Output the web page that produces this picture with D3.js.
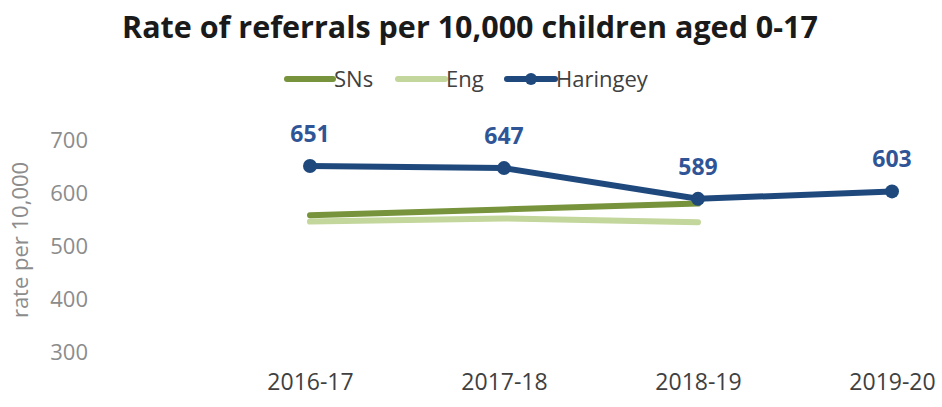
<!DOCTYPE html>
<html>
<head>
<meta charset="utf-8">
<script src="https://cdn.jsdelivr.net/npm/d3@7"></script>
<style>
  html, body { margin: 0; padding: 0; background: #fff; }
  svg { display: block; font-family: "Open Sans", "Noto Sans", sans-serif; }
</style>
</head>
<body>
<svg id="chart" width="942" height="407"></svg>
<script>
// Referral rates per 10,000 children aged 0-17
const years = ["2016-17", "2017-18", "2018-19", "2019-20"];
const snsValues = [558, 569, 580];
const engValues = [546, 552, 545];
const haringeyValues = [651, 647, 589, 603];
const yTicks = [300, 400, 500, 600, 700];

const colors = { sns: "#77933c", eng: "#c3d69b", haringey: "#1f497d" };
const FONT = "'Open Sans', 'Noto Sans', sans-serif";

const svg = d3.select("#chart");

const x = d3.scalePoint().domain(years).range([310, 892]);
const y = d3.scaleLinear().domain([300, 700]).range([352, 140]);

// Title
svg.append("text")
  .attr("x", 470).attr("y", 38)
  .attr("text-anchor", "middle")
  .attr("font-size", 30.5).attr("font-weight", 700)
  .attr("fill", "#1a1a1a")
  .text("Rate of referrals per 10,000 children aged 0-17");

// Y axis (labels only)
const yAxis = d3.axisLeft(y).tickValues(yTicks).tickSize(0).tickPadding(0);
const gy = svg.append("g").attr("transform", "translate(88,0)").call(yAxis);
gy.select(".domain").remove();
gy.selectAll("text")
  .attr("font-size", 22).attr("fill", "#8c8c8c")
  .attr("font-family", FONT);

// X axis (labels only)
const xAxis = d3.axisBottom(x).tickSize(0).tickPadding(0);
const gx = svg.append("g").attr("transform", "translate(0,374)").call(xAxis);
gx.select(".domain").remove();
gx.selectAll("text")
  .attr("font-size", 23).attr("fill", "#404040")
  .attr("font-family", FONT);

// Y axis title
svg.append("text")
  .attr("transform", "translate(28,240) rotate(-90)")
  .attr("text-anchor", "middle")
  .attr("font-size", 22).attr("fill", "#8c8c8c")
  .text("rate per 10,000");

const line = d3.line()
  .x((d, i) => x(years[i]))
  .y(d => y(d));

// Comparator series
svg.append("path").datum(engValues)
  .attr("d", line).attr("fill", "none")
  .attr("stroke", colors.eng).attr("stroke-width", 6)
  .attr("stroke-linecap", "round");
svg.append("path").datum(snsValues)
  .attr("d", line).attr("fill", "none")
  .attr("stroke", colors.sns).attr("stroke-width", 6)
  .attr("stroke-linecap", "round");

// Haringey series
svg.append("path").datum(haringeyValues)
  .attr("d", line).attr("fill", "none")
  .attr("stroke", colors.haringey).attr("stroke-width", 6)
  .attr("stroke-linejoin", "round");
svg.selectAll(".pt").data(haringeyValues).enter().append("circle")
  .attr("class", "pt")
  .attr("cx", (d, i) => x(years[i])).attr("cy", d => y(d))
  .attr("r", 7).attr("fill", colors.haringey);
svg.selectAll(".lbl").data(haringeyValues).enter().append("text")
  .attr("class", "lbl")
  .attr("x", (d, i) => x(years[i])).attr("y", d => y(d) - 24)
  .attr("text-anchor", "middle")
  .attr("font-size", 23).attr("font-weight", 700)
  .attr("fill", "#2f5597")
  .text(d => d);

// Legend
const legend = [
  { name: "SNs", color: colors.sns, x0: 287, x1: 333, tx: 334, marker: false },
  { name: "Eng", color: colors.eng, x0: 398, x1: 445, tx: 446, marker: false },
  { name: "Haringey", color: colors.haringey, x0: 507, x1: 555, tx: 556, marker: true }
];
const lg = svg.append("g");
legend.forEach(item => {
  lg.append("line")
    .attr("x1", item.x0).attr("x2", item.x1)
    .attr("y1", 79).attr("y2", 79)
    .attr("stroke", item.color).attr("stroke-width", 6)
    .attr("stroke-linecap", "round");
  if (item.marker) {
    lg.append("circle").attr("cx", (item.x0 + item.x1) / 2).attr("cy", 79)
      .attr("r", 6).attr("fill", item.color);
  }
  lg.append("text")
    .attr("x", item.tx).attr("y", 87)
    .attr("font-size", 22).attr("fill", "#404040")
    .text(item.name);
});
</script>
</body>
</html>
